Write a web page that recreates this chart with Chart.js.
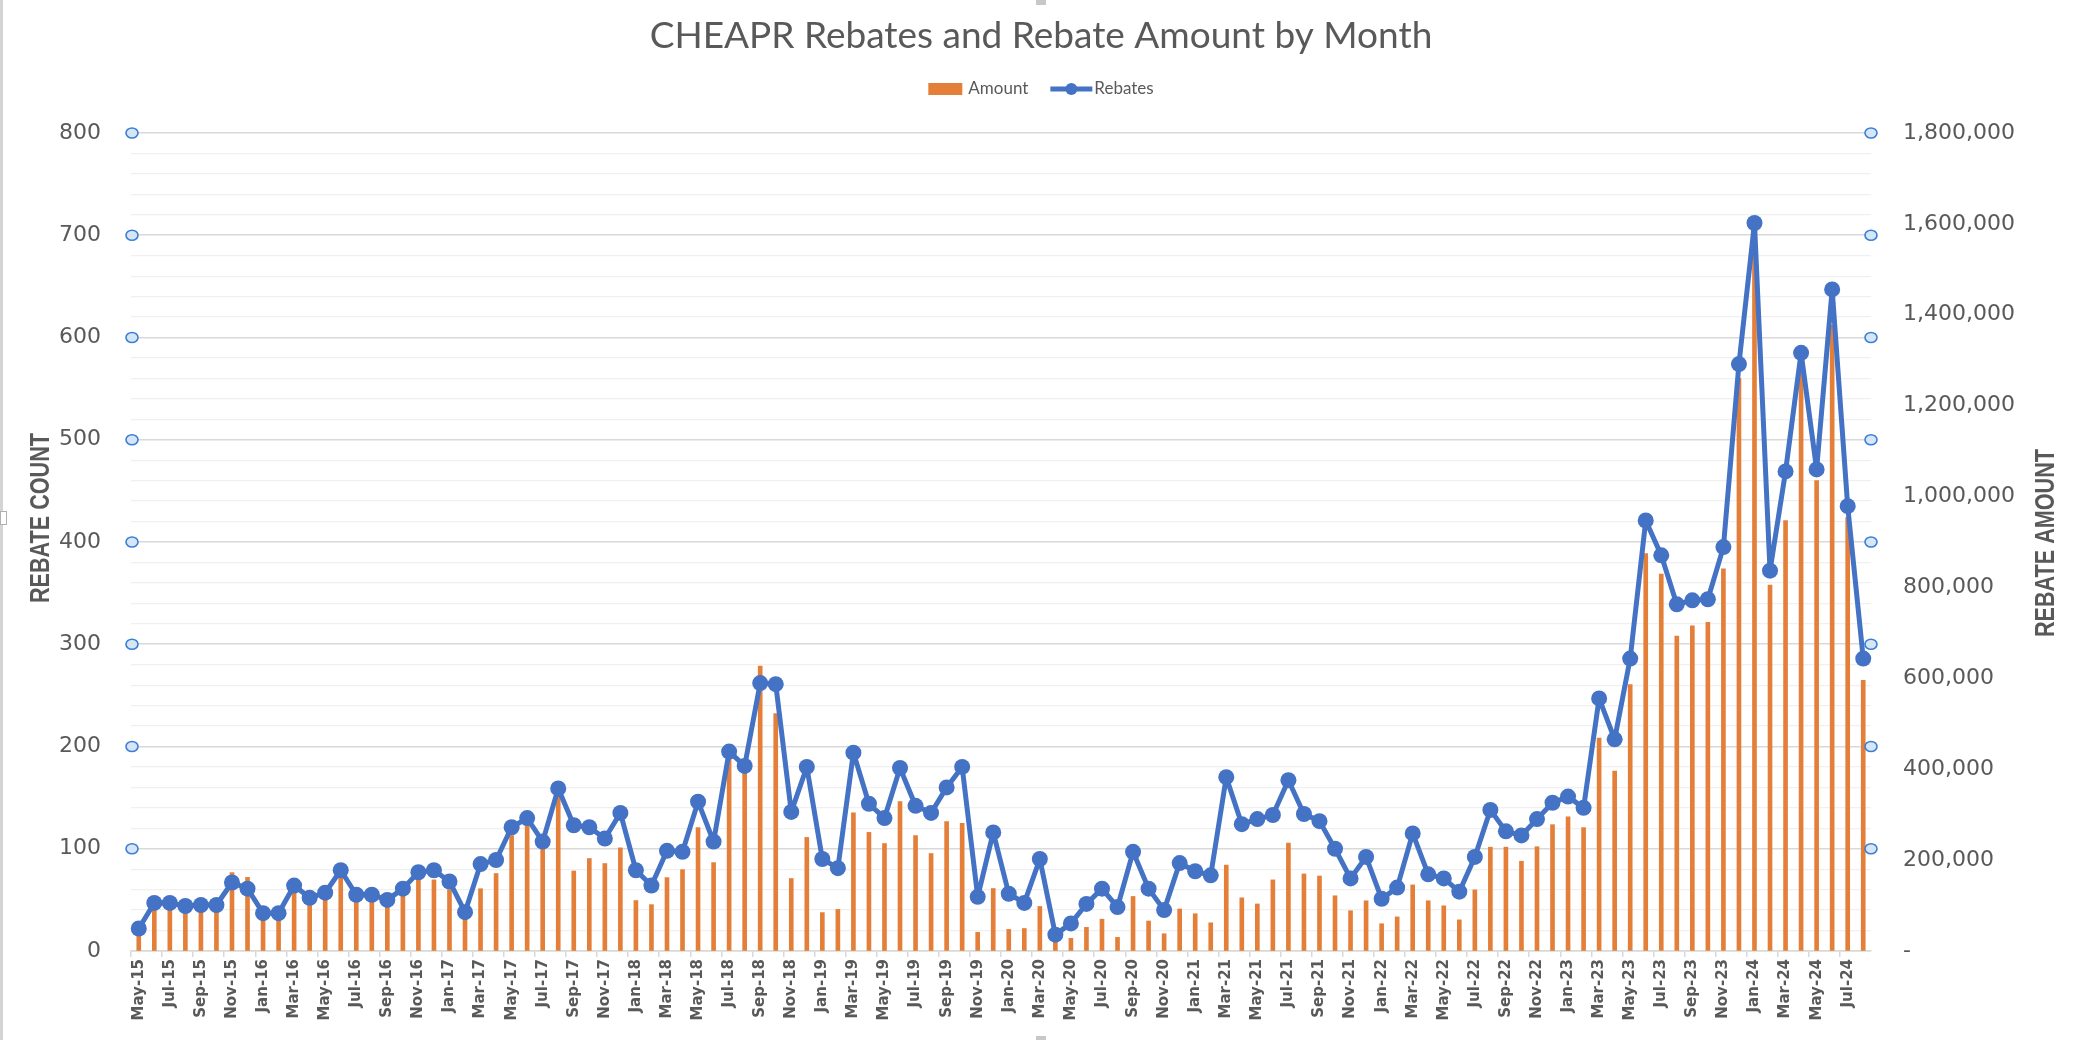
<!DOCTYPE html>
<html>
<head>
<meta charset="utf-8">
<script src="https://cdn.jsdelivr.net/npm/chart.js@4.4.1/dist/chart.umd.min.js"></script>
<style>
  html, body { margin: 0; padding: 0; background: #fff; }
  canvas { display: block; }
</style>
</head>
<body>
<canvas id="chart" width="2082" height="1040"></canvas>
<script>
// Months, May-15 .. Aug-24
const months = [
  'May-15', 'Jun-15', 'Jul-15', 'Aug-15', 'Sep-15', 'Oct-15', 'Nov-15', 'Dec-15',
  'Jan-16', 'Feb-16', 'Mar-16', 'Apr-16', 'May-16', 'Jun-16', 'Jul-16', 'Aug-16', 'Sep-16', 'Oct-16', 'Nov-16', 'Dec-16',
  'Jan-17', 'Feb-17', 'Mar-17', 'Apr-17', 'May-17', 'Jun-17', 'Jul-17', 'Aug-17', 'Sep-17', 'Oct-17', 'Nov-17', 'Dec-17',
  'Jan-18', 'Feb-18', 'Mar-18', 'Apr-18', 'May-18', 'Jun-18', 'Jul-18', 'Aug-18', 'Sep-18', 'Oct-18', 'Nov-18', 'Dec-18',
  'Jan-19', 'Feb-19', 'Mar-19', 'Apr-19', 'May-19', 'Jun-19', 'Jul-19', 'Aug-19', 'Sep-19', 'Oct-19', 'Nov-19', 'Dec-19',
  'Jan-20', 'Feb-20', 'Mar-20', 'Apr-20', 'May-20', 'Jun-20', 'Jul-20', 'Aug-20', 'Sep-20', 'Oct-20', 'Nov-20', 'Dec-20',
  'Jan-21', 'Feb-21', 'Mar-21', 'Apr-21', 'May-21', 'Jun-21', 'Jul-21', 'Aug-21', 'Sep-21', 'Oct-21', 'Nov-21', 'Dec-21',
  'Jan-22', 'Feb-22', 'Mar-22', 'Apr-22', 'May-22', 'Jun-22', 'Jul-22', 'Aug-22', 'Sep-22', 'Oct-22', 'Nov-22', 'Dec-22',
  'Jan-23', 'Feb-23', 'Mar-23', 'Apr-23', 'May-23', 'Jun-23', 'Jul-23', 'Aug-23', 'Sep-23', 'Oct-23', 'Nov-23', 'Dec-23',
  'Jan-24', 'Feb-24', 'Mar-24', 'Apr-24', 'May-24', 'Jun-24', 'Jul-24', 'Aug-24'
];

// Rebate count (left axis)
const rebates = [
  22, 47, 47, 44, 45, 45, 67, 61,
  37, 37, 64, 52, 57, 79, 55, 55, 50, 61, 77, 79,
  68, 38, 85, 89, 121, 130, 107, 159, 123, 121, 110, 135,
  79, 64, 98, 97, 146, 107, 195, 181, 262, 261, 136, 180,
  90, 81, 194, 144, 130, 179, 142, 135, 160, 180, 53, 116,
  56, 47, 90, 16, 27, 46, 61, 43, 97, 61, 40, 86,
  78, 74, 170, 124, 129, 133, 167, 134, 127, 100, 71, 92,
  51, 62, 115, 75, 71, 58, 92, 138, 117, 113, 129, 145,
  151, 140, 247, 207, 286, 421, 387, 339, 343, 344, 395, 574,
  712, 372, 469, 585, 471, 647, 435, 286
];

// Rebate amount (right axis)
const amounts = [
  40500, 94500, 99000, 90000, 94500, 94500, 172500, 162000,
  76500, 76500, 130500, 108000, 123500, 162000, 112500, 112500, 101000, 126000, 160000, 156500,
  135000, 72000, 137000, 170500, 254000, 280500, 225000, 342000, 176000, 203500, 192500, 227000,
  111000, 102000, 161500, 179000, 271500, 194500, 423000, 394000, 627000, 522500, 159500, 250000,
  84500, 91500, 304000, 261000, 236500, 329000, 254000, 214500, 285000, 281000, 41000, 137500,
  47500, 49500, 98000, 20000, 28000, 52000, 70000, 30000, 120000, 66000, 38000, 92500,
  82000, 62000, 189000, 117000, 103500, 156500, 237500, 169500, 165000, 121500, 88500, 110500,
  60000, 75000, 145500, 110500, 99500, 68500, 134500, 228500, 228500, 197500, 229500, 278000,
  295000, 271500, 468500, 396000, 586500, 874500, 829500, 693000, 715500, 723000, 841000, 1260000,
  1530000, 805000, 947000, 1271000, 1035000, 1377000, 954000, 595500
];

const countMajor = [100, 200, 300, 400, 500, 600, 700, 800];

const ORANGE = '#E47F3A';
const BLUE = '#4472C4';
const GREY = '#595959';

// title, legend, axis titles and the little gridline handles
const decorations = {
  id: 'decorations',
  afterDraw(chart) {
    const ctx = chart.ctx;
    const area = chart.chartArea;
    const yScale = chart.scales.y;
    const W = chart.width;

    ctx.save();

    // chart title
    ctx.fillStyle = GREY;
    ctx.font = '37px Lato, "Open Sans", sans-serif';
    ctx.textAlign = 'center';
    ctx.textBaseline = 'middle';
    ctx.fillText('CHEAPR Rebates and Rebate Amount by Month', W / 2, 36);

    // legend
    ctx.font = '17px Lato, sans-serif';
    ctx.textAlign = 'left';
    const w1 = ctx.measureText('Amount').width;
    const w2 = ctx.measureText('Rebates').width;
    const boxW = 34, boxH = 12, lineLen = 42, gap = 22;
    const total = boxW + 6 + w1 + gap + lineLen + 2 + w2;
    let lx = W / 2 - total / 2;
    const ly = 89;
    ctx.fillStyle = ORANGE;
    ctx.fillRect(lx, ly - boxH / 2, boxW, boxH);
    lx += boxW + 6;
    ctx.fillStyle = GREY;
    ctx.fillText('Amount', lx, ly);
    lx += w1 + gap;
    ctx.strokeStyle = BLUE;
    ctx.lineWidth = 5;
    ctx.beginPath();
    ctx.moveTo(lx, ly);
    ctx.lineTo(lx + lineLen, ly);
    ctx.stroke();
    ctx.fillStyle = BLUE;
    ctx.beginPath();
    ctx.arc(lx + lineLen / 2, ly, 6, 0, Math.PI * 2);
    ctx.fill();
    lx += lineLen + 2;
    ctx.fillStyle = GREY;
    ctx.fillText('Rebates', lx, ly);

    // axis titles, both read bottom to top, condensed bold
    ctx.font = 'bold 27px "Liberation Sans", Arial, sans-serif';
    ctx.textAlign = 'center';
    [['REBATE COUNT', area.left - 89, 518], ['REBATE AMOUNT', area.right + 176, 543]].forEach(t => {
      ctx.save();
      ctx.translate(t[1], t[2]);
      ctx.rotate(-Math.PI / 2);
      ctx.scale(0.8, 1);
      ctx.fillText(t[0], 0, 0);
      ctx.restore();
    });

    // selection handles on the major gridlines
    ctx.lineWidth = 1.6;
    ctx.strokeStyle = '#3a7fd5';
    ctx.fillStyle = '#d6e6f7';
    countMajor.forEach(v => {
      const y = yScale.getPixelForValue(v);
      [area.left + 1, area.right].forEach(x => {
        ctx.beginPath();
        ctx.ellipse(x, y, 6, 5, 0, 0, Math.PI * 2);
        ctx.fill();
        ctx.stroke();
      });
    });

    // chart frame bits at the edges
    ctx.fillStyle = '#d4d4d4';
    ctx.fillRect(0, 0, 3, chart.height);
    ctx.fillStyle = '#fff';
    ctx.strokeStyle = '#b0b0b0';
    ctx.lineWidth = 1;
    ctx.fillRect(0, 511, 7, 14);
    ctx.strokeRect(0.5, 511.5, 6, 13);
    ctx.fillStyle = '#c8c8c8';
    ctx.fillRect(W / 2 - 5, 0, 10, 5);
    ctx.fillRect(W / 2 - 5, chart.height - 4, 10, 4);

    ctx.restore();
  }
};

const chart = new Chart(document.getElementById('chart').getContext('2d'), {
  type: 'bar',
  data: {
    labels: months,
    datasets: [
      {
        type: 'bar',
        label: 'Amount',
        data: amounts,
        yAxisID: 'y1',
        backgroundColor: ORANGE,
        barThickness: 4,
        order: 2
      },
      {
        type: 'line',
        label: 'Rebates',
        data: rebates,
        yAxisID: 'y',
        borderColor: BLUE,
        backgroundColor: BLUE,
        borderWidth: 5,
        borderJoinStyle: 'round',
        pointRadius: 8,
        pointBorderWidth: 0,
        pointBackgroundColor: BLUE,
        tension: 0,
        order: 1
      }
    ]
  },
  options: {
    responsive: false,
    animation: false,
    layout: { padding: { top: 133 } },
    plugins: {
      legend: { display: false },
      title: { display: false },
      tooltip: { enabled: false }
    },
    scales: {
      x: {
        offset: true,
        grid: {
          offset: true,
          drawOnChartArea: false,
          drawTicks: true,
          tickLength: 6,
          lineWidth: 1.5,
          color: c => (c.index % 2 === 0 ? '#d9d9d9' : 'rgba(0,0,0,0)')
        },
        border: { color: '#d9d9d9', width: 1.5 },
        ticks: {
          autoSkip: false,
          minRotation: 90,
          maxRotation: 90,
          padding: 2,
          color: GREY,
          font: { family: 'DejaVu Sans', size: 15, weight: 'bold' },
          callback: function (v, i) { return i % 2 === 0 ? this.getLabelForValue(v) : ''; }
        },
        afterFit: s => { s.height = 89; }
      },
      y: {
        position: 'left',
        min: 0,
        max: 800,
        border: { display: false },
        grid: {
          drawTicks: false,
          color: c => (c.tick.value % 100 === 0 ? '#d9d9d9' : '#f0f0f0'),
          lineWidth: c => (c.tick.value % 100 === 0 ? 1.6 : 1.3)
        },
        ticks: {
          stepSize: 20,
          autoSkip: false,
          padding: 30,
          color: GREY,
          font: { family: 'DejaVu Sans', size: 22 },
          callback: v => (v % 100 === 0 ? v : '')
        },
        afterFit: s => { s.width = 131; }
      },
      y1: {
        position: 'right',
        min: 0,
        max: 1800000,
        border: { display: false },
        grid: { drawOnChartArea: false, drawTicks: false },
        ticks: {
          stepSize: 200000,
          padding: 32,
          color: GREY,
          font: { family: 'DejaVu Sans', size: 22 },
          callback: v => (v === 0 ? '-' : v.toLocaleString('en-US'))
        },
        afterFit: s => { s.width = 211; }
      }
    }
  },
  plugins: [decorations]
});
</script>
</body>
</html>
